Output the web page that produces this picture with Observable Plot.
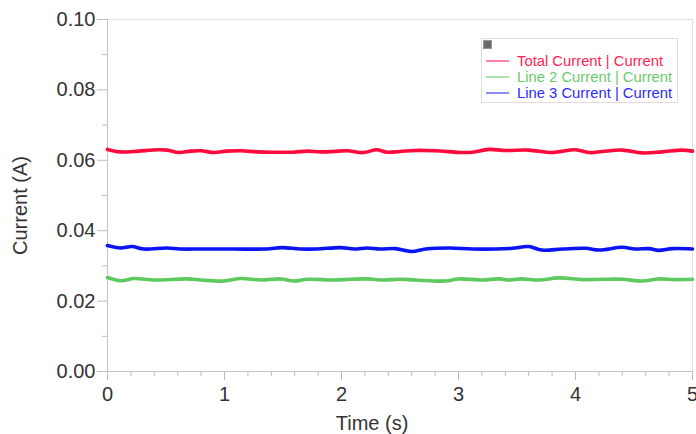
<!DOCTYPE html>
<html>
<head>
<meta charset="utf-8">
<script src="https://cdn.jsdelivr.net/npm/d3@7"></script>
<script src="https://cdn.jsdelivr.net/npm/@observablehq/plot@0.6"></script>
<style>
  html, body { margin: 0; padding: 0; background: #fff; }
  #wrap { position: relative; width: 696px; height: 434px; font-family: "Liberation Sans", Arial, sans-serif; }
  #legend { position: absolute; left: 481px; top: 38px; width: 197px; height: 65px; border: 1px solid #dedede; background: #fff; box-sizing: border-box; }
  #legend .sq { position: absolute; left: 1px; top: 1px; width: 9px; height: 9px; background: #6a6a6a; border: 1px solid #999; box-sizing: border-box; }
  #legend .row { position: absolute; left: 35px; height: 16px; font-size: 14.8px; line-height: 16px; white-space: nowrap; }
  #legend svg { position: absolute; left: 0; top: 0; }
</style>
</head>
<body>
<div id="wrap"></div>
<script>
// ---- data ----
const seriesNames = ["Total Current | Current", "Line 2 Current | Current", "Line 3 Current | Current"];
const seriesColors = ["#ff0a3c", "#5ec95e", "#0a14f5"];

const totalTime    = [0.00, 0.11, 0.23, 0.43, 0.51, 0.61, 0.71, 0.80, 0.91, 1.02, 1.14, 1.28, 1.42, 1.59, 1.71, 1.82, 1.93, 2.05, 2.19, 2.30, 2.39, 2.50, 2.63, 2.80, 3.03, 3.12, 3.26, 3.40, 3.60, 3.80, 4.00, 4.12, 4.23, 4.40, 4.57, 4.74, 4.91, 5.00];
const totalCurrent = [0.0631, 0.0624, 0.0625, 0.0630, 0.0629, 0.0622, 0.0626, 0.0627, 0.0622, 0.0626, 0.0627, 0.0624, 0.0623, 0.0623, 0.0626, 0.0624, 0.0625, 0.0627, 0.0622, 0.0630, 0.0623, 0.0625, 0.0628, 0.0627, 0.0622, 0.0623, 0.0631, 0.0628, 0.0629, 0.0622, 0.0630, 0.0622, 0.0625, 0.0629, 0.0621, 0.0624, 0.0629, 0.0626];

const line2Time    = [0.00, 0.11, 0.23, 0.40, 0.68, 0.80, 0.99, 1.14, 1.31, 1.48, 1.59, 1.71, 1.93, 2.08, 2.22, 2.36, 2.50, 2.63, 2.89, 3.00, 3.20, 3.35, 3.43, 3.54, 3.69, 3.86, 4.06, 4.23, 4.40, 4.57, 4.71, 4.85, 5.00];
const line2Current = [0.0267, 0.0258, 0.0264, 0.0260, 0.0263, 0.0260, 0.0257, 0.0264, 0.0260, 0.0263, 0.0257, 0.0262, 0.0260, 0.0262, 0.0263, 0.0260, 0.0262, 0.0260, 0.0257, 0.0263, 0.0260, 0.0263, 0.0260, 0.0263, 0.0260, 0.0266, 0.0261, 0.0262, 0.0262, 0.0257, 0.0263, 0.0261, 0.0262];

const line3Time    = [0.00, 0.11, 0.21, 0.31, 0.51, 0.62, 0.80, 1.08, 1.36, 1.49, 1.65, 1.79, 1.99, 2.11, 2.22, 2.33, 2.46, 2.60, 2.72, 2.92, 3.12, 3.32, 3.46, 3.60, 3.71, 3.89, 4.09, 4.20, 4.40, 4.51, 4.63, 4.71, 4.83, 5.00];
const line3Current = [0.0358, 0.0351, 0.0355, 0.0348, 0.0351, 0.0348, 0.0348, 0.0348, 0.0348, 0.0352, 0.0348, 0.0348, 0.0352, 0.0348, 0.0351, 0.0348, 0.0349, 0.0341, 0.0348, 0.0351, 0.0348, 0.0348, 0.0350, 0.0355, 0.0345, 0.0348, 0.0350, 0.0345, 0.0353, 0.0348, 0.0349, 0.0344, 0.0349, 0.0348];

const xTicks = [0, 1, 2, 3, 4, 5];
const xMinorTicks = [0.2, 0.4, 0.6, 0.8, 1.2, 1.4, 1.6, 1.8, 2.2, 2.4, 2.6, 2.8, 3.2, 3.4, 3.6, 3.8, 4.2, 4.4, 4.6, 4.8];
const yTicks = [0, 0.02, 0.04, 0.06, 0.08, 0.10];
const yMinorTicks = [0.01, 0.03, 0.05, 0.07, 0.09];

// ---- build table ----
const rows = [];
[[totalTime, totalCurrent], [line2Time, line2Current], [line3Time, line3Current]].forEach(([t, v], i) => {
  t.forEach((tt, j) => rows.push({series: seriesNames[i], time: tt, current: v[j]}));
});

const chart = Plot.plot({
  width: 696,
  height: 434,
  marginLeft: 107,
  marginRight: 4,
  marginTop: 19,
  marginBottom: 63,
  style: {fontFamily: "'Liberation Sans', Arial, sans-serif", fontSize: "20px", color: "#333", background: "#fff"},
  x: {domain: [0, 5]},
  y: {domain: [0, 0.1]},
  color: {domain: seriesNames, range: seriesColors},
  marks: [
    Plot.frame({stroke: "#e2e2e2"}),
    Plot.axisX(xMinorTicks, {tickSize: 5, tickFormat: () => "", stroke: "#bdbdbd", label: null}),
    Plot.axisX(xTicks, {tickSize: 9, tickPadding: 6, tickFormat: d3.format("d"), stroke: "#bdbdbd", fill: "#333", label: "Time (s)", labelAnchor: "center", labelArrow: "none", labelOffset: 58}),
    Plot.axisY(yMinorTicks, {tickSize: 5, tickFormat: () => "", stroke: "#bdbdbd", label: null}),
    Plot.axisY(yTicks, {tickSize: 10, tickPadding: 2, tickFormat: d3.format(".2f"), stroke: "#bdbdbd", fill: "#333", label: "Current (A)", labelAnchor: "center", labelArrow: "none", labelOffset: 95}),
    Plot.ruleX([0], {stroke: "#c4c4c4"}),
    Plot.ruleY([0], {stroke: "#c4c4c4"}),
    Plot.line(rows, {x: "time", y: "current", z: "series", stroke: "series", strokeWidth: 3.6, curve: "catmull-rom"})
  ]
});

// nudge axis titles to where the reference places them (keep Plot's own transform)
function nudge(sel, dx, dy) {
  const g = d3.select(chart).select(sel);
  const t = g.attr("transform") || "";
  g.attr("transform", `translate(${dx},${dy}) ${t}`);
}
nudge('g[aria-label="y-axis label"]', 0, 10);
nudge('g[aria-label="x-axis label"]', -28, 0);

const wrap = document.getElementById("wrap");
wrap.appendChild(chart);

// legend overlay
const legend = document.createElement("div");
legend.id = "legend";
legend.innerHTML = '<div class="sq"></div>';
const swatchColors = ["#ff5c7e", "#8ed88e", "#8c8cff"];
const swatchWidths = [1.5, 1.5, 2];
const textColors = ["#ff1f4f", "#6acb6a", "#2b2bff"];
const tops = [14, 30, 46];
const svgNS = "http://www.w3.org/2000/svg";
const sw = document.createElementNS(svgNS, "svg");
sw.setAttribute("width", 40);
sw.setAttribute("height", 64);
seriesNames.forEach((name, i) => {
  const ln = document.createElementNS(svgNS, "line");
  const yy = tops[i] + 8;
  ln.setAttribute("x1", 4); ln.setAttribute("x2", 27);
  ln.setAttribute("y1", yy); ln.setAttribute("y2", yy);
  ln.setAttribute("stroke", swatchColors[i]);
  ln.setAttribute("stroke-width", swatchWidths[i]);
  sw.appendChild(ln);
  const r = document.createElement("div");
  r.className = "row";
  r.style.top = tops[i] + "px";
  r.style.color = textColors[i];
  r.textContent = name;
  legend.appendChild(r);
});
legend.appendChild(sw);
wrap.appendChild(legend);
</script>
</body>
</html>
